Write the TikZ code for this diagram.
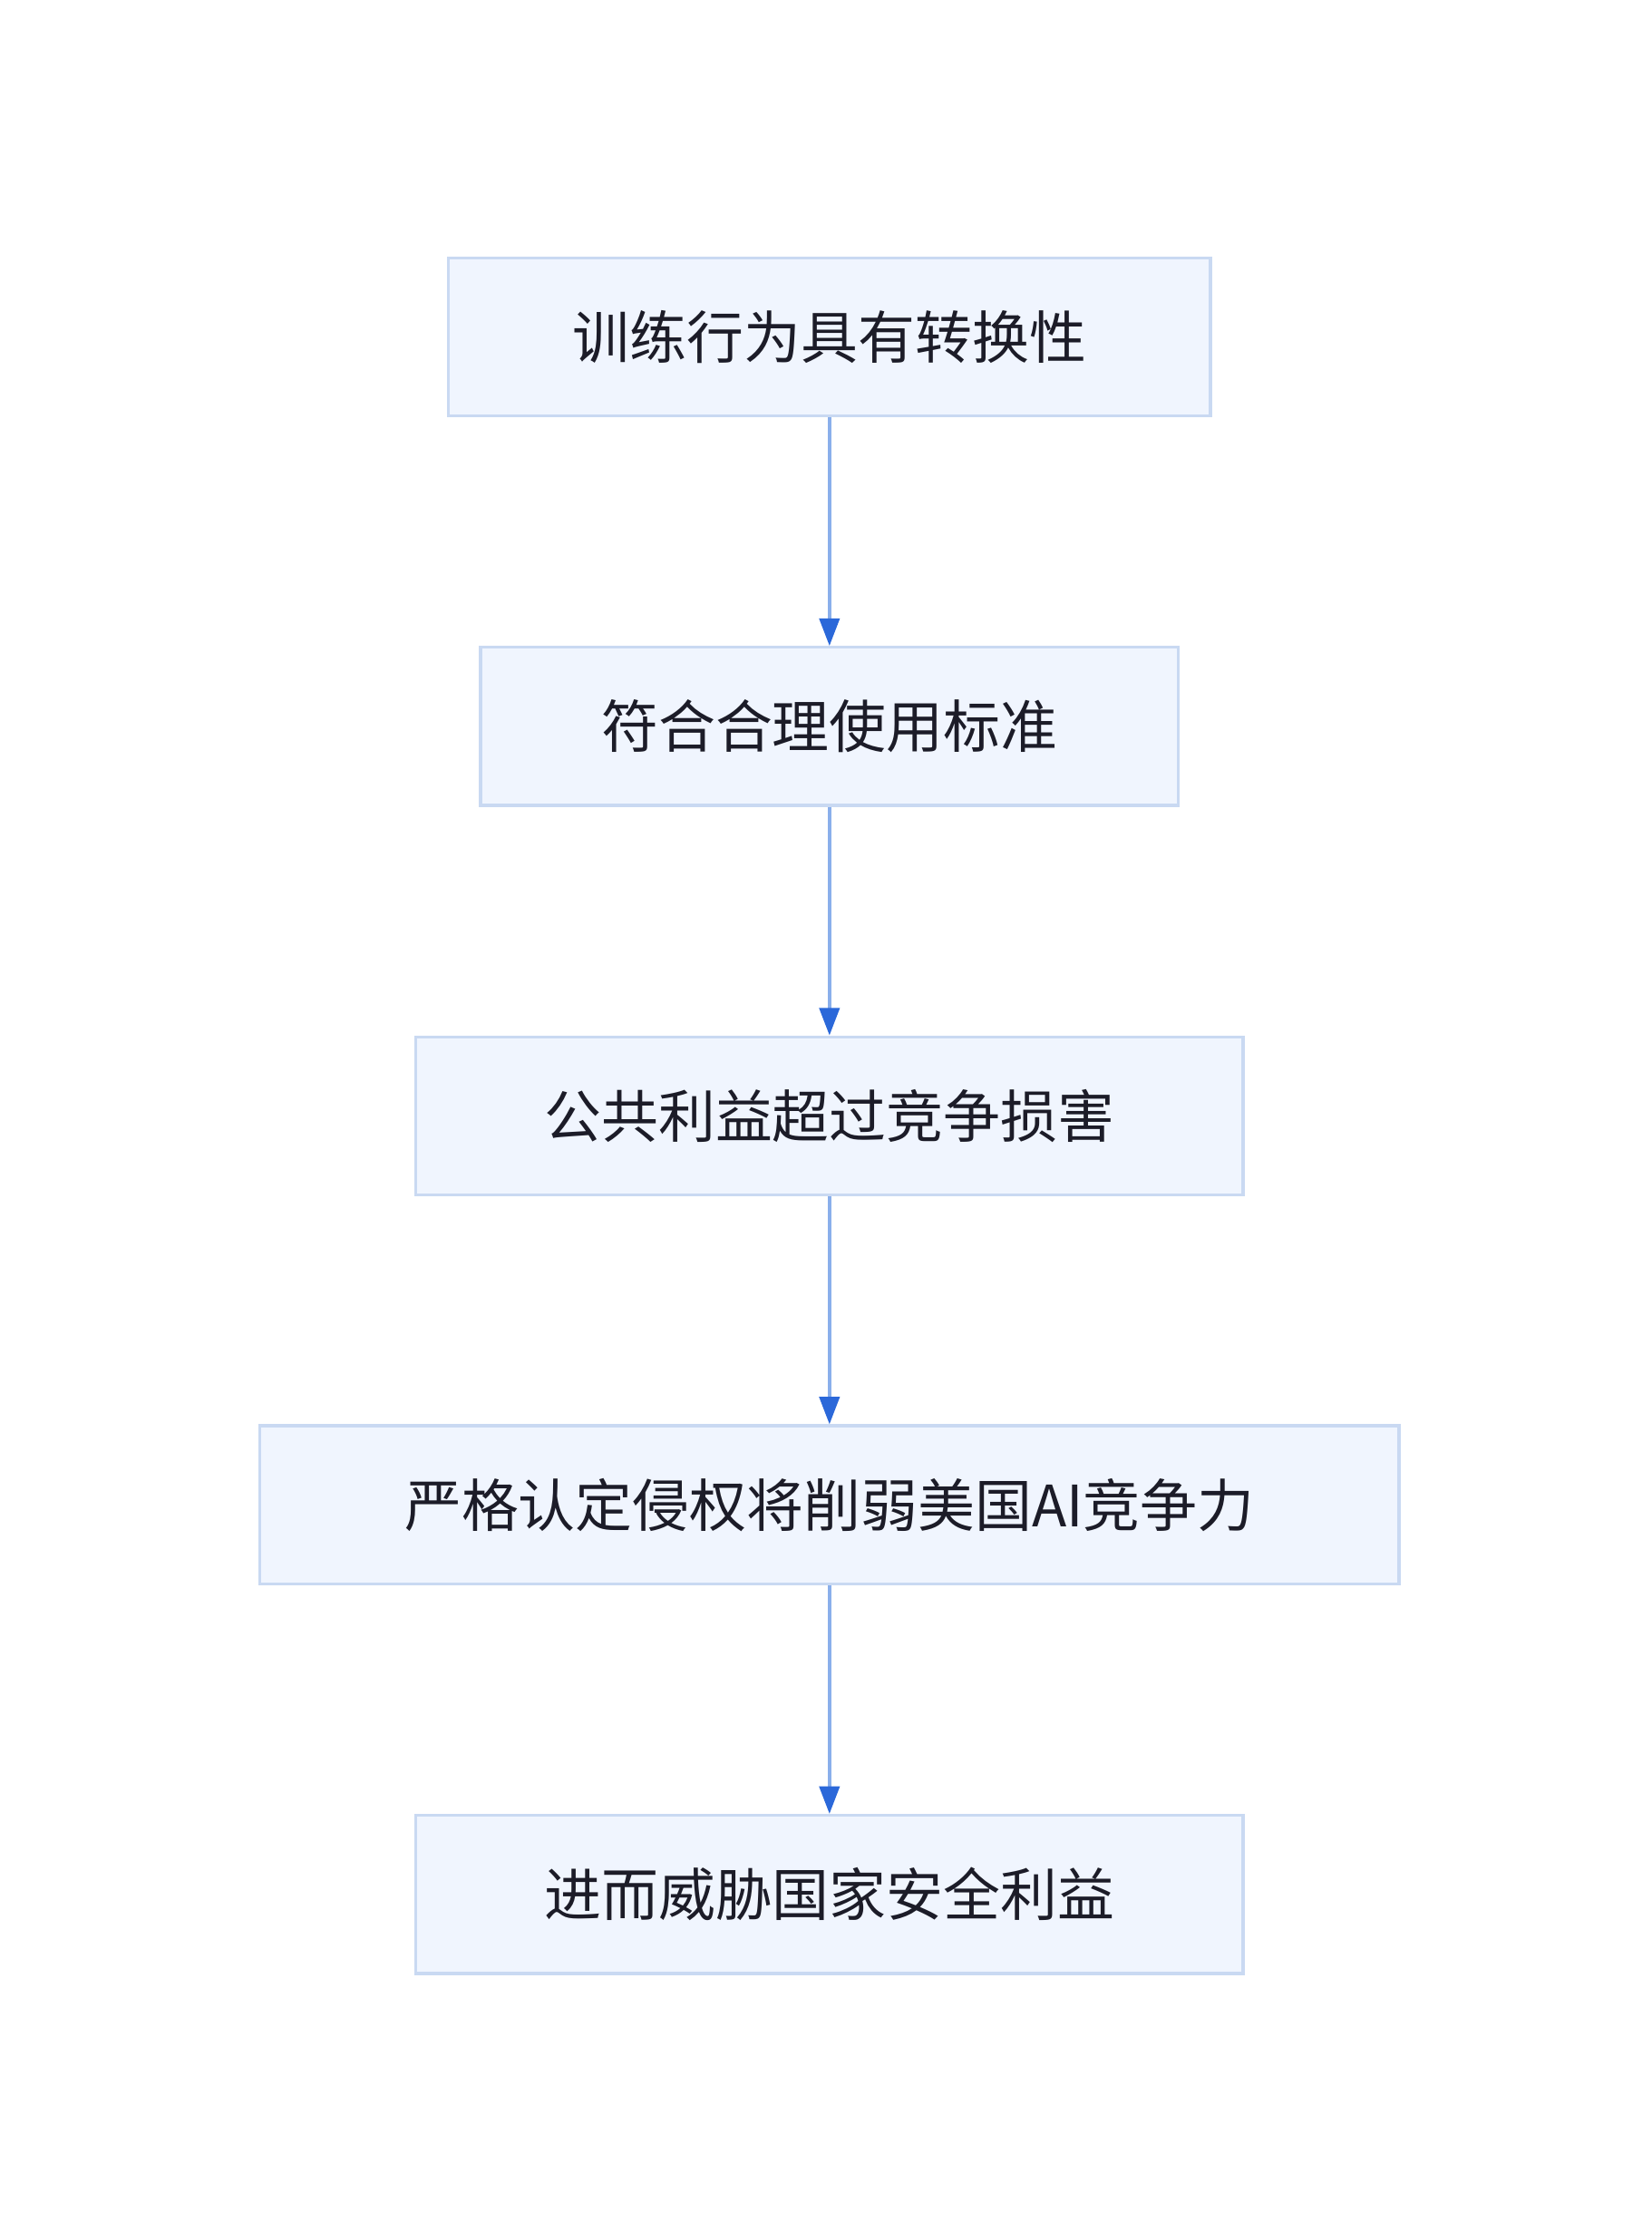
\documentclass[tikz,border=0pt]{standalone}
\usepackage{fontspec}
\newfontfamily\cjk{Noto Sans CJK SC}
\usetikzlibrary{arrows.meta,positioning}
\definecolor{boxfill}{HTML}{F0F5FE}
\definecolor{boxline}{HTML}{C9D9F2}
\definecolor{linkline}{HTML}{8AAFEB}
\definecolor{tipblue}{HTML}{2B68D9}
\definecolor{textdark}{HTML}{1C1C28}
\begin{document}
\begin{tikzpicture}[x=0.02cm,y=-0.02cm,
    flowbox/.style={draw=boxline,line width=1.2pt,fill=boxfill,minimum height=2.22cm,
        text=textdark,font=\cjk\fontsize{22.8}{26}\selectfont},
    link/.style={draw=linkline,line width=1.4pt,-{Triangle[length=11pt,width=8pt,fill=tipblue,color=tipblue]}}]
    \useasboundingbox (0,0) rectangle (1160,1560);
    % flow boxes
    \node[flowbox,minimum width=10.7cm] (train) at (582.5,236.5) {训练行为具有转换性};
    \node[flowbox,minimum width=9.8cm] (fair) at (582.5,510) {符合合理使用标准};
    \node[flowbox,minimum width=11.62cm] (public) at (582.5,783.5) {公共利益超过竞争损害};
    \node[flowbox,minimum width=16cm] (strict) at (582.5,1056.5) {严格认定侵权将削弱美国AI竞争力};
    \node[flowbox,minimum width=11.62cm] (secure) at (582.5,1330) {进而威胁国家安全利益};

    % connectors
    \draw[link] (train) -- (fair);
    \draw[link] (fair) -- (public);
    \draw[link] (public) -- (strict);
    \draw[link] (strict) -- (secure);
\end{tikzpicture}
\end{document}
